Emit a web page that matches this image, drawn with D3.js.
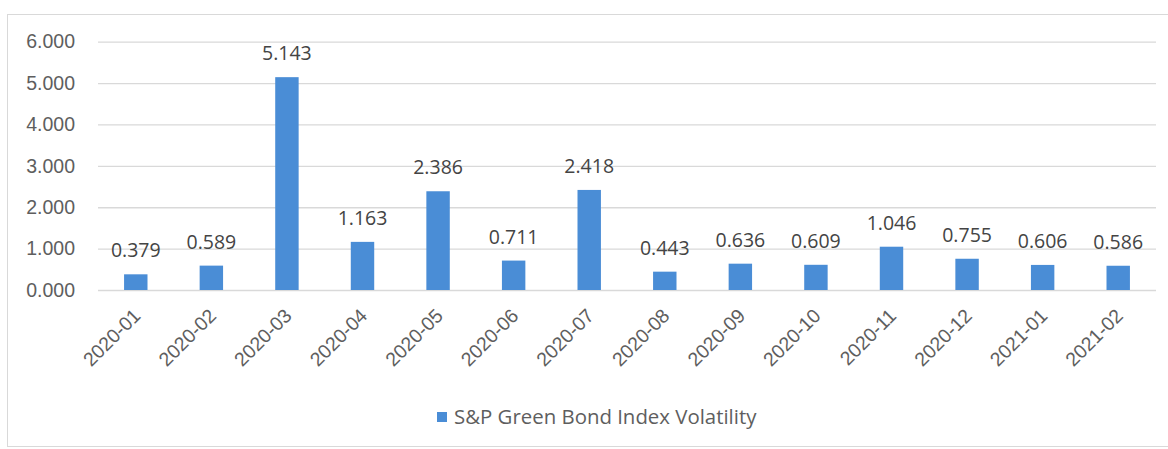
<!DOCTYPE html>
<html>
<head>
<meta charset="utf-8">
<script src="https://cdn.jsdelivr.net/npm/d3@7"></script>
<style>
  html, body { margin: 0; padding: 0; background: #fff; }
  svg { display: block; font-family: "Open Sans", "Noto Sans", sans-serif; }
</style>
</head>
<body>
<svg id="chart" width="1168" height="449"></svg>
<script>
// Monthly volatility of the S&P Green Bond Index
const months = ["2020-01","2020-02","2020-03","2020-04","2020-05","2020-06","2020-07",
                "2020-08","2020-09","2020-10","2020-11","2020-12","2021-01","2021-02"];
const volatility = [0.379, 0.589, 5.143, 1.163, 2.386, 0.711, 2.418,
                    0.443, 0.636, 0.609, 1.046, 0.755, 0.606, 0.586];
const yTicks = [0, 1, 2, 3, 4, 5, 6];
const seriesName = "S&P Green Bond Index Volatility";

const svg = d3.select("#chart");
const W = 1168, H = 449;
const textColor = "#5e5e5e";
const barColor = "#4a8dd6";
const gridColor = "#d9d9d9";
const fontSize = "19.5px";

// outer chart frame
svg.append("rect")
  .attr("x", 7.5).attr("y", 14.5)
  .attr("width", W).attr("height", 432)
  .attr("fill", "#fff").attr("stroke", gridColor).attr("stroke-width", 1);

const plot = { left: 98, right: 1156, top: 41.7, bottom: 290 };

const x = d3.scaleBand()
  .domain(months)
  .range([plot.left, plot.right])
  .paddingInner(0.69)
  .paddingOuter(0.345);

const y = d3.scaleLinear()
  .domain([0, 6])
  .range([plot.bottom, plot.top]);

// horizontal gridlines and value axis labels
const yAxis = d3.axisLeft(y)
  .tickValues(yTicks)
  .tickSize(-(plot.right - plot.left))
  .tickPadding(23)
  .tickFormat(d3.format(".3f"));

const yg = svg.append("g")
  .attr("transform", `translate(${plot.left},0)`)
  .call(yAxis);
yg.select(".domain").remove();
yg.selectAll(".tick line").attr("stroke", gridColor).attr("stroke-width", 1.3);
yg.selectAll(".tick text")
  .attr("fill", textColor)
  .style("font-size", fontSize);

// bars
svg.append("g").selectAll("rect")
  .data(months.map((m, i) => ({ m, v: volatility[i] })))
  .join("rect")
  .attr("x", d => x(d.m))
  .attr("y", d => y(d.v))
  .attr("width", x.bandwidth())
  .attr("height", d => y(0) - y(d.v))
  .attr("fill", barColor);

// value labels
svg.append("g").selectAll("text")
  .data(months.map((m, i) => ({ m, v: volatility[i] })))
  .join("text")
  .attr("x", d => x(d.m) + x.bandwidth() / 2)
  .attr("y", d => y(d.v) - 17)
  .attr("text-anchor", "middle")
  .attr("fill", "#444")
  .style("font-size", fontSize)
  .text(d => d3.format(".3f")(d.v));

// rotated category labels
const xAxis = d3.axisBottom(x).tickSize(0).tickPadding(0);
const xg = svg.append("g")
  .attr("transform", `translate(0,${plot.bottom})`)
  .call(xAxis);
xg.select(".domain").remove();
xg.selectAll(".tick text")
  .attr("fill", textColor)
  .style("font-size", fontSize)
  .attr("text-anchor", "end")
  .attr("dy", null)
  .attr("transform", "translate(6,27) rotate(-45)");

// legend
const legend = svg.append("g").attr("transform", "translate(437,412)");
legend.append("rect")
  .attr("width", 10).attr("height", 10)
  .attr("fill", barColor);
legend.append("text")
  .attr("x", 17).attr("y", 5)
  .attr("dy", "0.35em")
  .attr("fill", textColor)
  .style("font-size", "20.4px")
  .text(seriesName);
</script>
</body>
</html>
